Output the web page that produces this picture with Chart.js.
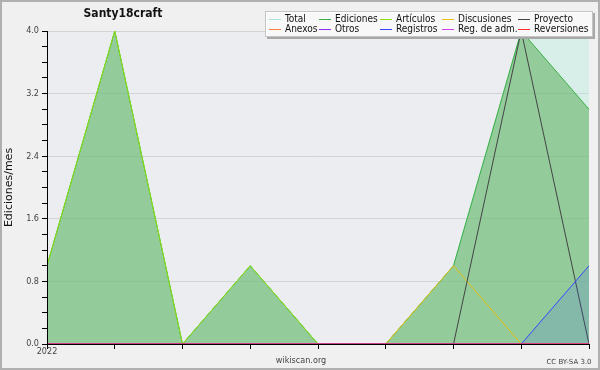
<!DOCTYPE html>
<html>
<head>
<meta charset="utf-8">
<script src="https://cdn.jsdelivr.net/npm/chart.js@4.4.0/dist/chart.umd.min.js"></script>
<style>
body{margin:0;background:#f0f0f0;}
#wrap{width:600px;height:370px;}
</style>
</head>
<body>
<div id="wrap"><canvas id="graf" width="600" height="370"></canvas></div>
<script>
/* datos: ediciones por mes, 9 meses desde 2022 */
var meses = ["2022", "", "", "", "", "", "", "", ""];
var total = [1, 4, 0, 1, 0, 0, 1, 4, 4];
var ediciones = [1, 4, 0, 1, 0, 0, 1, 4, 3];
var articulos = [1, 4, 0, 1, 0, 0, 0, 0, 0];
var discusiones = [0, 0, 0, 0, 0, 0, 1, 0, 0];
var proyecto = [0, 0, 0, 0, 0, 0, 0, 4, 0];
var anexos = [0, 0, 0, 0, 0, 0, 0, 0, 0];
var otros = [0, 0, 0, 0, 0, 0, 0, 0, 0];
var registros = [0, 0, 0, 0, 0, 0, 0, 0, 1];
var regAdm = [0, 0, 0, 0, 0, 0, 0, 0, 0];
var reversiones = [0, 0, 0, 0, 0, 0, 0, 0, 0];
var yTicks = [0, 0.8, 1.6, 2.4, 3.2, 4.0];

var fuente = "'DejaVu Sans', sans-serif";
var fuenteC = "'DejaVu Sans Condensed', 'DejaVu Sans', sans-serif";

var series = [
	{label: "Total", data: total, color: "#a6e6e2", fill: "rgba(169,245,220,0.3)"},
	{label: "Ediciones", data: ediciones, color: "#3cb043", fill: "rgba(101,178,101,0.6)"},
	{label: "Artículos", data: articulos, color: "#8ee010", fill: null},
	{label: "Discusiones", data: discusiones, color: "#e8c010", fill: null},
	{label: "Proyecto", data: proyecto, color: "#444444", fill: null},
	{label: "Anexos", data: anexos, color: "#ff8040", fill: null},
	{label: "Otros", data: otros, color: "#9030f0", fill: null},
	{label: "Registros", data: registros, color: "#3848ff", fill: "rgba(50,80,255,0.15)"},
	{label: "Reg. de adm.", data: regAdm, color: "#d040f0", fill: null},
	{label: "Reversiones", data: reversiones, color: "#ff3030", fill: null}
];

function esMayor(v){
	for(var i = 0; i < yTicks.length; i++){
		if(Math.abs(v - yTicks[i]) < 1e-6) return true;
	}
	return false;
}

var datasets = [];
for(var i = 0; i < series.length; i++){
	datasets.push({
		label: series[i].label,
		data: series[i].data,
		borderColor: series[i].color,
		backgroundColor: series[i].fill ? series[i].fill : "rgba(0,0,0,0)",
		fill: series[i].fill ? "origin" : false,
		borderWidth: 1,
		pointRadius: 0,
		tension: 0,
		order: 10 - i
	});
}

/* fondo, ejes encima de las series, textos y leyenda */
var decorado = {
	id: "decorado",
	beforeDraw: function(chart){
		var ctx = chart.ctx, a = chart.chartArea;
		ctx.save();
		ctx.fillStyle = "#f0f0f0";
		ctx.fillRect(0, 0, chart.width, chart.height);
		ctx.fillStyle = "#ecedf0";
		ctx.fillRect(a.left, a.top, a.right - a.left, a.bottom - a.top);
		ctx.restore();
	},
	afterDatasetsDraw: function(chart){
		var ctx = chart.ctx, a = chart.chartArea;
		var l = Math.round(a.left) + 0.5, b = Math.round(a.bottom) + 0.5;
		ctx.save();
		ctx.strokeStyle = "#000";
		ctx.lineWidth = 1;
		ctx.beginPath();
		ctx.moveTo(l, Math.round(a.top));
		ctx.lineTo(l, b);
		ctx.lineTo(Math.round(a.right) + 1, b);
		ctx.stroke();
		ctx.restore();
	},
	afterDraw: function(chart){
		var ctx = chart.ctx;
		ctx.save();
		/* marco */
		ctx.strokeStyle = "#b0b0b0";
		ctx.lineWidth = 2;
		ctx.strokeRect(1, 1, chart.width - 2, chart.height - 2);

		/* titulo */
		ctx.fillStyle = "#111";
		ctx.textAlign = "center";
		ctx.textBaseline = "middle";
		ctx.font = "bold 12px " + fuenteC;
		ctx.fillText("Santy18craft", 123, 14);

		ctx.fillStyle = "#444";
		ctx.font = "9px " + fuenteC;
		ctx.fillText("wikiscan.org", 301, 361);
		ctx.font = "7px " + fuente;
		ctx.fillText("CC BY-SA 3.0", 569, 362);

		/* leyenda */
		ctx.fillStyle = "#a8a8a8";
		ctx.fillRect(267, 13, 328, 26);
		ctx.fillStyle = "rgba(255,255,255,0.92)";
		ctx.fillRect(265, 11, 328, 26);
		ctx.strokeStyle = "#c4c4c4";
		ctx.lineWidth = 1;
		ctx.strokeRect(265.5, 11.5, 327, 25);

		var colX = [269, 319, 380, 442, 518];
		var filaY = [19, 29];
		ctx.textAlign = "left";
		ctx.font = "10px " + fuenteC;
		for(var k = 0; k < series.length; k++){
			var x = colX[k % 5], y = filaY[Math.floor(k / 5)];
			ctx.strokeStyle = series[k].color;
			ctx.beginPath();
			ctx.moveTo(x, y + 0.5);
			ctx.lineTo(x + 12, y + 0.5);
			ctx.stroke();
			ctx.fillStyle = "#111";
			ctx.fillText(series[k].label, x + 16, y);
		}
		ctx.restore();
	}
};

var grafico = new Chart(document.getElementById("graf"), {
	type: "line",
	data: {labels: meses, datasets: datasets},
	plugins: [decorado],
	options: {
		responsive: false,
		animation: false,
		layout: {padding: {top: 31, right: 11, left: 0, bottom: 0}},
		plugins: {legend: {display: false}, tooltip: {enabled: false}, title: {display: false}},
		scales: {
			x: {
				afterFit: function(s){ s.height = 26; },
				ticks: {autoSkip: false, maxRotation: 0, padding: -3, color: "#444", font: {family: fuenteC, size: 9}},
				grid: {drawOnChartArea: false, tickColor: "#000", tickLength: 5},
				border: {color: "#000"}
			},
			y: {
				min: 0,
				max: 4,
				afterFit: function(s){ s.width = 47; },
				ticks: {
					stepSize: 0.2,
					autoSkip: false,
					padding: 3,
					color: "#444",
					font: {family: fuenteC, size: 9},
					callback: function(v){ return esMayor(v) ? v.toFixed(1) : ""; }
				},
				grid: {
					color: function(c){ return esMayor(c.tick.value) ? "#d2d3d5" : "rgba(0,0,0,0)"; },
					tickColor: "#000",
					tickLength: 5
				},
				border: {color: "#000"},
				title: {display: true, text: "Ediciones/mes", color: "#111", font: {family: fuente, size: 11}, padding: {top: 3, bottom: 0}}
			}
		}
	}
});
</script>
</body>
</html>
